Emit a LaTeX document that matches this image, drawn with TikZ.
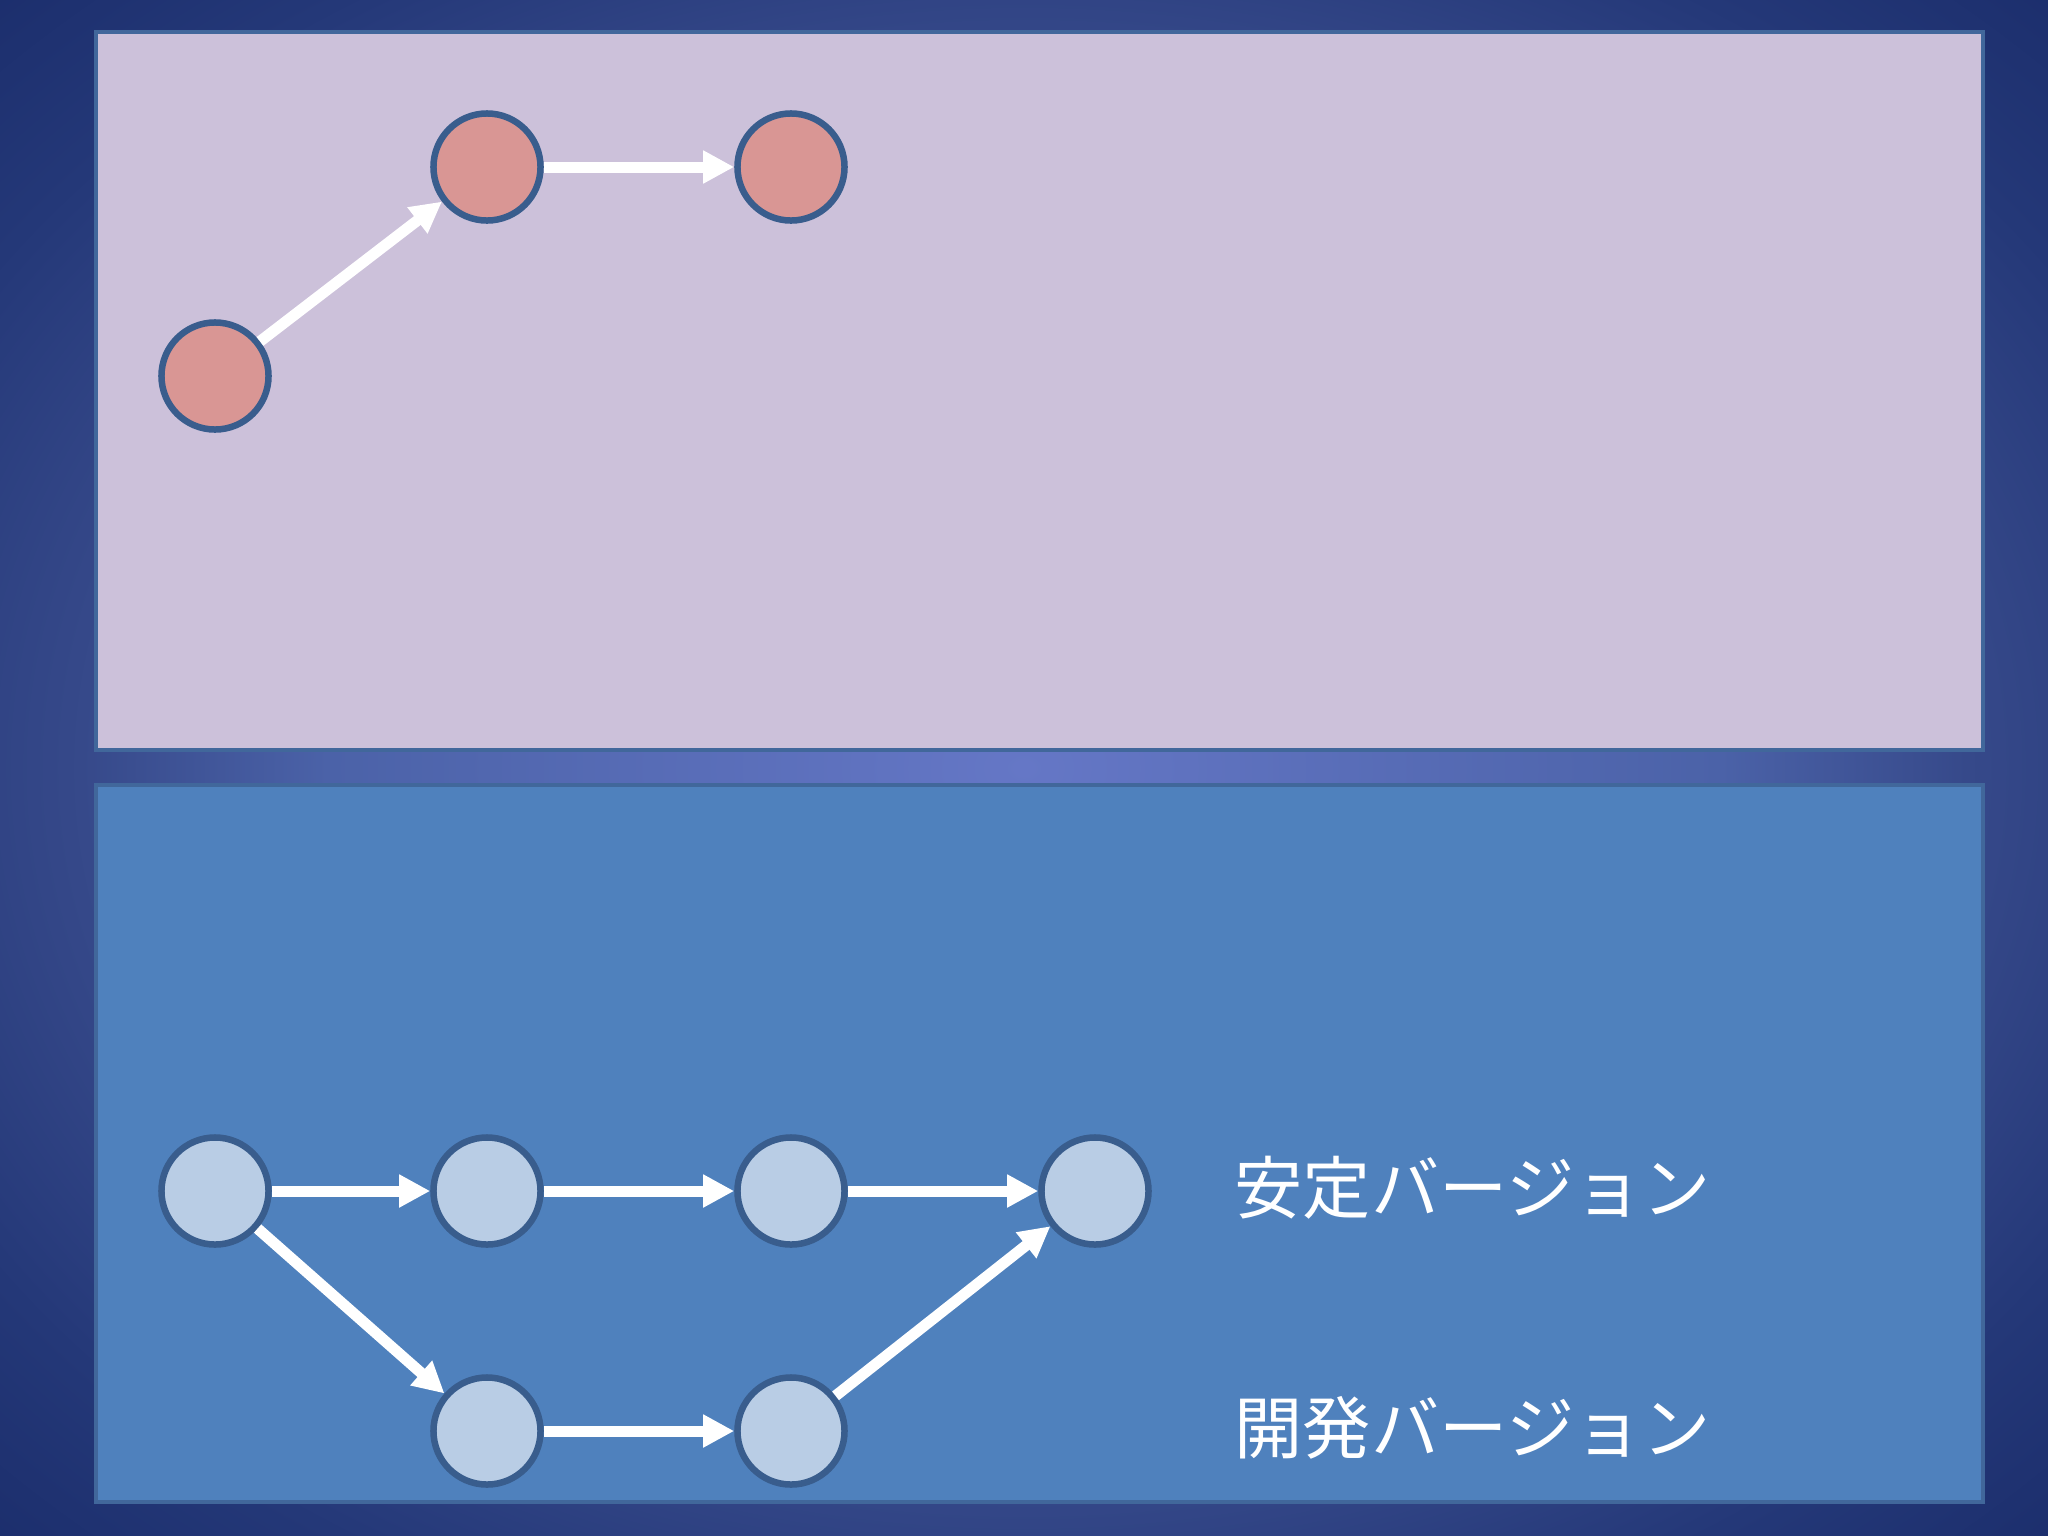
\documentclass[tikz,border=0pt]{standalone}
\usepackage{fontspec}
\newfontfamily\jpfont{Noto Sans CJK JP}
\usetikzlibrary{arrows.meta}
\definecolor{bgA}{HTML}{6577C6}
\definecolor{bgB}{HTML}{4B62A8}
\definecolor{bgC}{HTML}{36498A}
\definecolor{bgD}{HTML}{243878}
\definecolor{bgE}{HTML}{0E1E5A}
\pgfdeclareradialshading{bgshade}{\pgfpoint{0bp}{0bp}}{color(0bp)=(bgA); color(17bp)=(bgB); color(23bp)=(bgC); color(30bp)=(bgD); color(45bp)=(bgE); color(50bp)=(bgE)}
\definecolor{toppanel}{HTML}{CCC1DA}
\definecolor{botpanel}{HTML}{4F81BD}
\definecolor{panelline}{HTML}{41679B}
\definecolor{ringline}{HTML}{395D8D}
\definecolor{redfill}{HTML}{D99694}
\definecolor{bluefill}{HTML}{B9CDE5}
\tikzset{
  panel/.style={draw=panelline, line width=0.045cm},
  commit/.style={circle, draw=ringline, line width=0.065cm, minimum size=1.07cm, inner sep=0pt},
  redc/.style={commit, fill=redfill},
  bluec/.style={commit, fill=bluefill},
  flow/.style={draw=white, line width=0.11cm, -{Triangle[length=0.31cm, width=0.31cm]}},
  label/.style={anchor=west, text=white, font=\jpfont\fontsize{19.4}{22}\selectfont, inner sep=0pt}
}
\begin{document}
\begin{tikzpicture}[x=0.01cm, y=-0.01cm]
\useasboundingbox (0,0) rectangle (2048,1536);
\shade[shading=bgshade] (0,0) rectangle (2048,1536);
% panels
\filldraw[panel, fill=toppanel] (96,32) rectangle (1983,750);
\filldraw[panel, fill=botpanel] (96,785) rectangle (1983,1502);
% top commits
\node[redc] (r1) at (215,376) {};
\node[redc] (r2) at (487,167) {};
\node[redc] (r3) at (791,167) {};
\draw[flow] (r1) -- (r2);
\draw[flow] (r2) -- (r3);
% bottom commits
\node[bluec] (s1) at (215,1191) {};
\node[bluec] (s2) at (487,1191) {};
\node[bluec] (s3) at (791,1191) {};
\node[bluec] (s4) at (1095,1191) {};
\node[bluec] (d1) at (487,1431) {};
\node[bluec] (d2) at (791,1431) {};
\draw[flow] (s1) -- (s2);
\draw[flow] (s2) -- (s3);
\draw[flow] (s3) -- (s4);
\draw[flow] (s1) -- (d1);
\draw[flow] (d1) -- (d2);
\draw[flow] (d2) -- (s4);
% labels
\node[label] (stable) at (1234,1188) {安定バージョン};
\node[label] (dev) at (1234,1428) {開発バージョン};
\end{tikzpicture}
\end{document}
